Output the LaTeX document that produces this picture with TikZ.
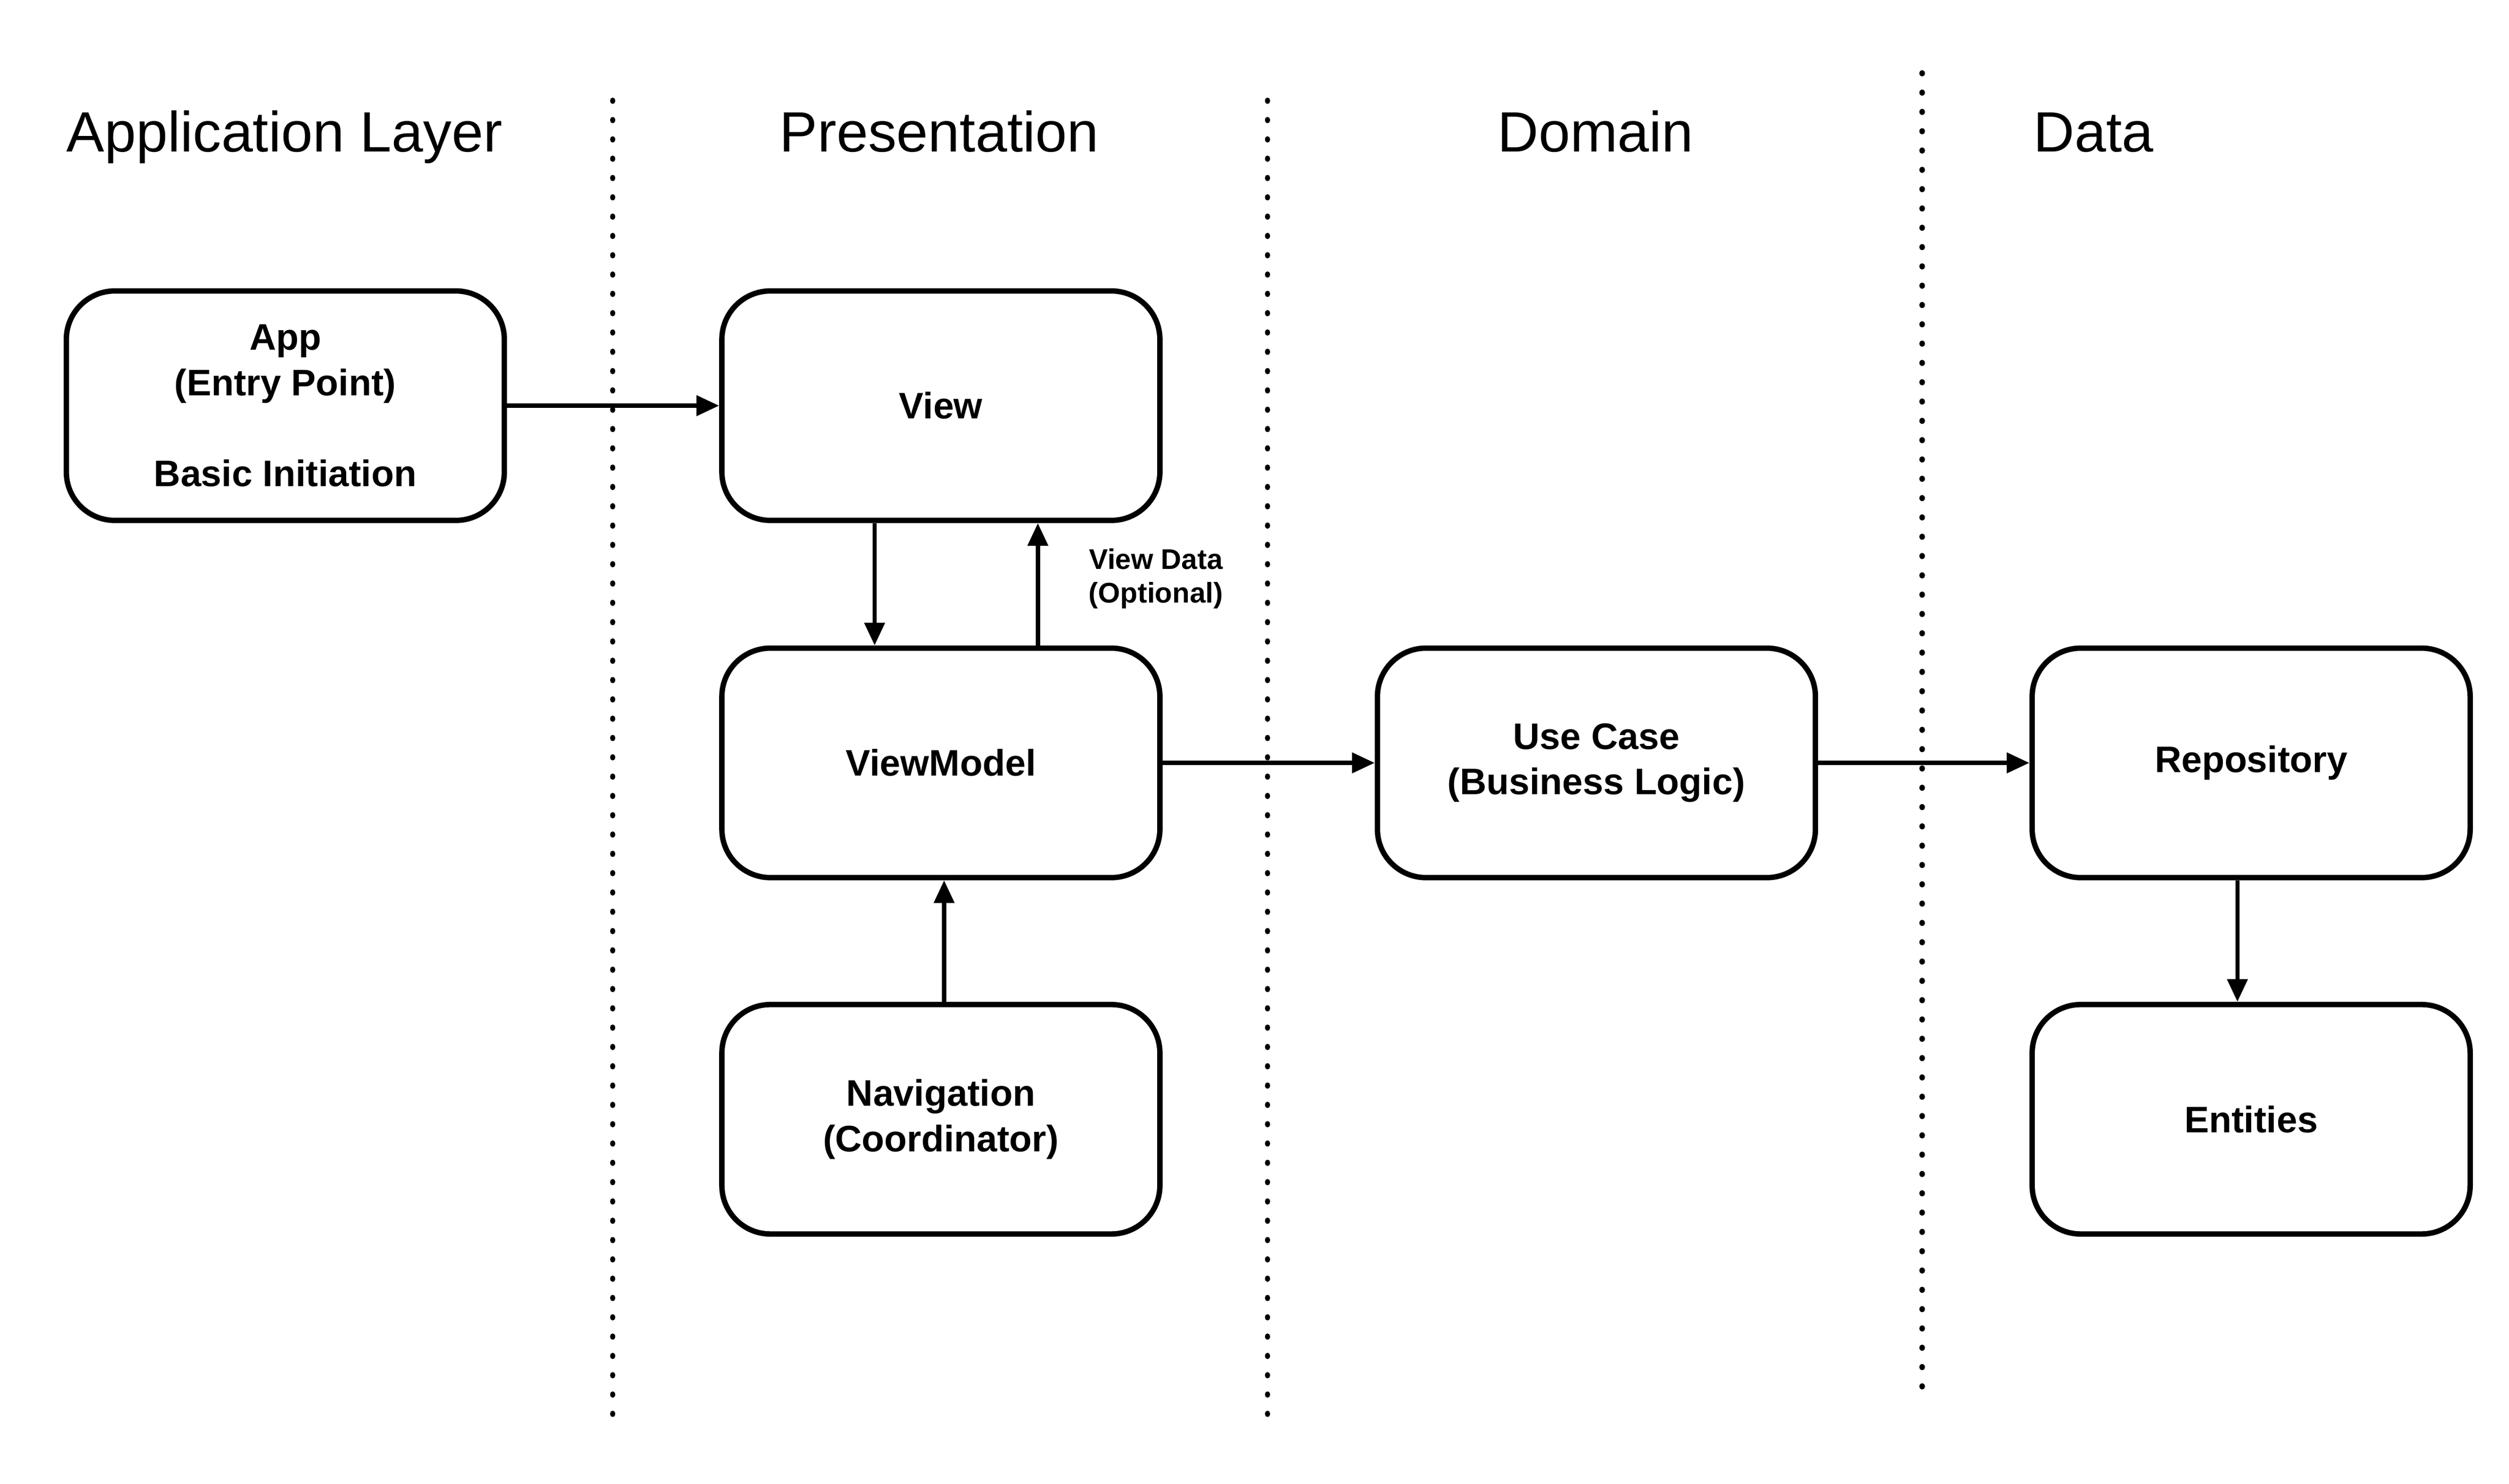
\documentclass[tikz,border=0pt]{standalone}
\usepackage{fontspec}
\setmainfont{Liberation Sans}
\usetikzlibrary{arrows.meta}
\tikzset{
  box/.style={draw,line width=1.9pt,rounded corners=0.6cm,minimum width=5.42cm,minimum height=2.84cm,align=center,font=\fontsize{13}{16}\selectfont\bfseries},
  layer/.style={anchor=base,font=\fontsize{20}{24}\selectfont},
  sep/.style={line width=1.8pt,line cap=round,dash pattern=on 0.4pt off 6.4pt},
  arr/.style={line width=1.5pt,-{Triangle[length=8pt,width=7pt]}}
}
\begin{document}
\begin{tikzpicture}[x=0.02cm,y=-0.02cm]
\useasboundingbox (0,0) rectangle (1552,918);
% layer titles
\node[layer] (tapp) at (176,94) {Application Layer};
\node[layer] (tpres) at (581,94) {Presentation};
\node[layer] (tdom) at (987,94) {Domain};
\node[layer] (tdata) at (1295,94) {Data};
% separators
\coordinate (s1a) at (379,62); \coordinate (s1b) at (379,877);
\coordinate (s2a) at (784,62); \coordinate (s2b) at (784,877);
\coordinate (s3a) at (1189,45); \coordinate (s3b) at (1189,860);
\draw[sep] (s1a) -- (s1b);
\draw[sep] (s2a) -- (s2b);
\draw[sep] (s3a) -- (s3b);
% boxes
\node[box] (app) at (176.5,251) {App\\(Entry Point)\\[16pt]Basic Initiation};
\node[box] (view) at (582,251) {View};
\node[box] (vm) at (582,472) {ViewModel};
\node[box] (nav) at (582,692.5) {Navigation\\(Coordinator)};
\node[box] (uc) at (987.5,472) {Use Case\\(Business Logic)};
\node[box] (repo) at (1392.5,472) {Repository};
\node[box] (ent) at (1392.5,692.5) {Entities};
% connectors
\draw[arr] (app) -- (view);
\draw[arr] ([xshift=-0.82cm]view.south) -- ([xshift=-0.82cm]vm.north);
\draw[arr] ([xshift=1.2cm]vm.north) -- ([xshift=1.2cm]view.south);
\node[align=center,font=\fontsize{10}{12}\selectfont\bfseries] (vdata) at (715,358) {View Data\\(Optional)};
\draw[arr] ([xshift=0.04cm]nav.north) -- ([xshift=0.04cm]vm.south);
\draw[arr] (vm) -- (uc);
\draw[arr] (uc) -- (repo);
\draw[arr] ([xshift=-0.17cm]repo.south) -- ([xshift=-0.17cm]ent.north);
\end{tikzpicture}
\end{document}
